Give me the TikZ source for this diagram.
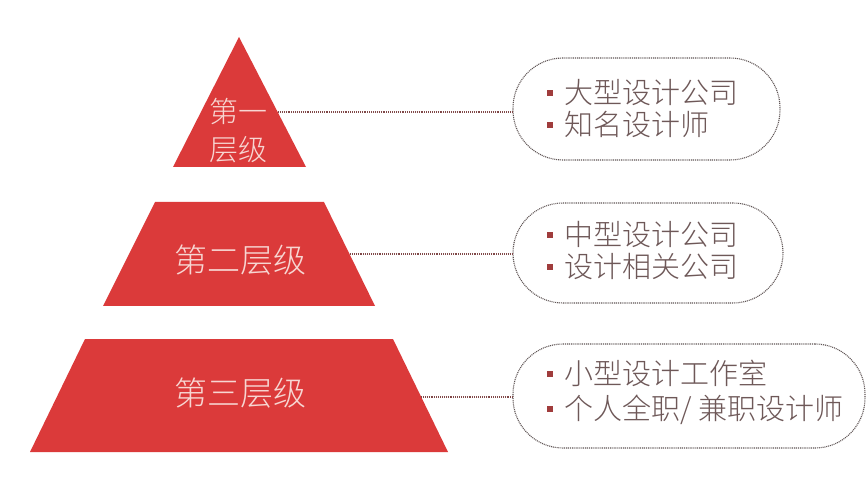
\documentclass[tikz,border=0pt]{standalone}
\usepackage{fontspec}
\setmainfont{Noto Sans CJK SC}[UprightFont=* Light]
\definecolor{tierred}{HTML}{DB3A3A}
\definecolor{tiertext}{HTML}{F7D6D2}
\definecolor{listtext}{HTML}{6E5858}
\definecolor{bulcol}{HTML}{A03C3C}
\definecolor{boxline}{HTML}{5E5454}
\definecolor{conncol}{HTML}{804848}
\newcommand{\bul}{\textcolor{bulcol}{\rule[8pt]{6pt}{6pt}}\hspace{11pt}}
\begin{document}
\begin{tikzpicture}[x=1pt,y=-1pt,
  tier/.style={fill=tierred},
  tierlabel/.style={text=tiertext,inner sep=0pt,align=center},
  listbox/.style={draw=boxline,line width=1.1pt,dash pattern=on 1pt off 0.9pt,rounded corners=50pt,inner sep=0pt},
  listtxt/.style={text=listtext,inner sep=0pt,align=left,anchor=west},
  conn/.style={draw=conncol,line width=1.1pt,dash pattern=on 1pt off 0.9pt}]
\useasboundingbox (0,0) rectangle (868,497);
\fill[white] (0,0) rectangle (868,497);
% tiers
\fill[tier] (239,37) -- (306,167) -- (173,167) -- cycle;
\fill[tier] (155,202) -- (324,202) -- (375,306) -- (103,306) -- cycle;
\fill[tier] (85,339) -- (393,339) -- (448,452) -- (30,452) -- cycle;
\node[tierlabel,font=\fontsize{29pt}{38pt}\selectfont] (t1) at (238.5,131) {第一\\层级};
\node[tierlabel,font=\fontsize{33pt}{38pt}\selectfont] (t2) at (240,260) {第二层级};
\node[tierlabel,font=\fontsize{33pt}{38pt}\selectfont] (t3) at (240,393) {第三层级};
\coordinate (c1) at (278,112);
\coordinate (c2) at (350,254);
\coordinate (c3) at (421,397);
% boxes
\node[listbox,minimum width=267pt,minimum height=102pt] (b1) at (646.5,109) {};
\node[listbox,minimum width=270pt,minimum height=100pt] (b2) at (648,253) {};
\node[listbox,minimum width=352pt,minimum height=104pt] (b3) at (689,396) {};
\node[listtxt,font=\fontsize{29pt}{32pt}\selectfont] (l1) at (547,109) {\bul 大型设计公司\\\bul 知名设计师};
\node[listtxt,font=\fontsize{29pt}{32pt}\selectfont] (l2) at (547,251) {\bul 中型设计公司\\\bul 设计相关公司};
\node[listtxt,font=\fontsize{29pt}{35pt}\selectfont] (l3) at (547,392.5) {\bul 小型设计工作室\\\bul 个人全职/ 兼职设计师};
% connectors
\draw[conn] (c1) -- (c1 -| b1.west);
\draw[conn] (c2) -- (c2 -| b2.west);
\draw[conn] (c3) -- (c3 -| b3.west);
\end{tikzpicture}
\end{document}
